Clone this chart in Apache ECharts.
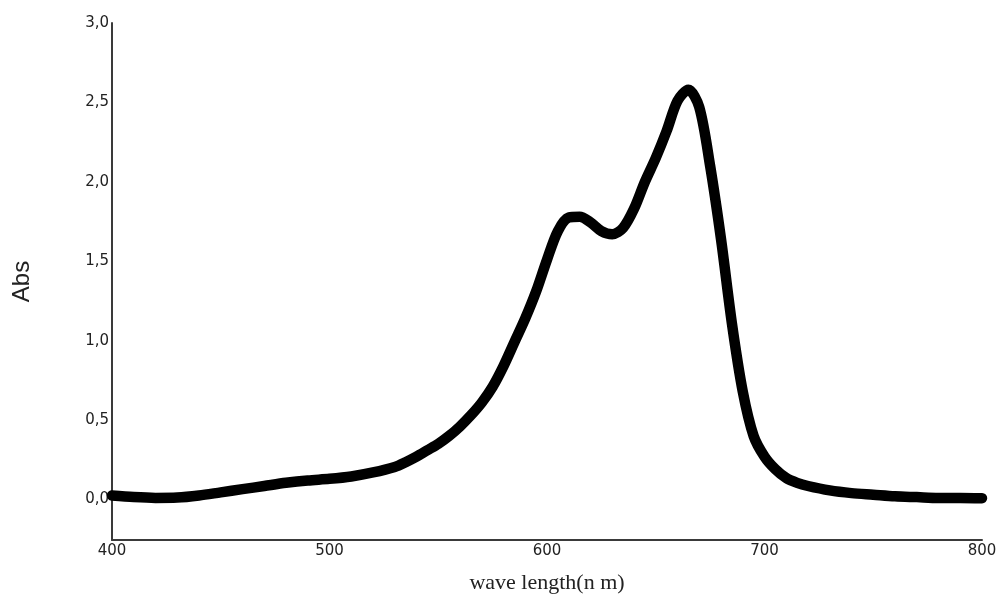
<!DOCTYPE html>
<html>
<head>
<meta charset="utf-8">
<script src="https://cdn.jsdelivr.net/npm/echarts@6/dist/echarts.min.js"></script>
<style>
html,body{margin:0;padding:0;background:#fff;}
#chart{width:1003px;height:599px;}
</style>
</head>
<body>
<div id="chart"></div>
<script>
// Data
var wavelengths = [400,410,420,430,440,450,460,470,480,490,500,510,520,530,535,540,545,550,555,560,565,570,575,580,585,590,595,600,605,610,615,620,625,630,635,640,645,650,655,660,665,670,675,680,685,690,695,700,705,710,715,720,730,740,750,760,770,780,790,800];
var absorbance  = [0.025,0.015,0.01,0.012,0.025,0.045,0.065,0.085,0.105,0.12,0.13,0.145,0.17,0.205,0.235,0.27,0.31,0.35,0.40,0.46,0.53,0.61,0.71,0.84,0.99,1.14,1.31,1.51,1.69,1.775,1.78,1.745,1.69,1.67,1.71,1.83,2.00,2.15,2.32,2.51,2.58,2.47,2.10,1.64,1.11,0.68,0.40,0.27,0.19,0.135,0.105,0.085,0.057,0.04,0.03,0.02,0.015,0.01,0.01,0.008];
var xTicks = [400,500,600,700,800];
var yTicks = [0,0.5,1,1.5,2,2.5,3];
var xName = 'wave length(n m)';
var yName = 'Abs';

var seriesData = wavelengths.map(function(w,i){return [w, absorbance[i]];});

var chart = echarts.init(document.getElementById('chart'), null, {renderer:'canvas'});
chart.setOption({
  animation:false,
  backgroundColor:'#ffffff',
  grid:{left:112, right:21, top:23, bottom:57, containLabel:false},
  xAxis:{
    type:'value', min:400, max:800,
    name:xName, nameLocation:'middle', nameGap:32,
    nameTextStyle:{fontFamily:'Liberation Serif', fontSize:22, color:'#222'},
    axisLine:{show:true, onZero:false, lineStyle:{color:'#3a3a3a', width:2}},
    axisTick:{show:false},
    splitLine:{show:false},
    axisLabel:{customValues:xTicks, margin:4, fontFamily:'DejaVu Sans', fontSize:15, color:'#222'}
  },
  yAxis:{
    type:'value', min:-0.255, max:3.0,
    name:yName, nameLocation:'middle', nameGap:78, nameRotate:90,
    nameTextStyle:{fontFamily:'Liberation Sans', fontSize:24, color:'#222'},
    axisLine:{show:true, onZero:false, lineStyle:{color:'#3a3a3a', width:2}},
    axisTick:{show:false},
    splitLine:{show:false},
    axisLabel:{customValues:yTicks, margin:3, fontFamily:'DejaVu Sans', fontSize:15, color:'#222',
      formatter:function(v){return v.toFixed(1).replace('.', ',');}}
  },
  series:[{
    type:'line', data:seriesData, smooth:0.3, showSymbol:false,
    lineStyle:{color:'#000', width:10.5, cap:'round', join:'round'}
  }]
});
</script>
</body>
</html>
